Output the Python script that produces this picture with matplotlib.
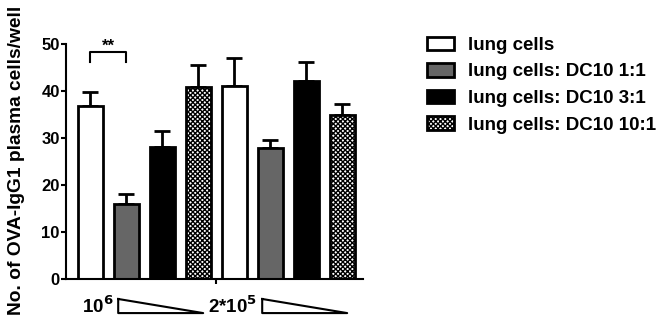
import numpy as np
import matplotlib
matplotlib.use("Agg")
import matplotlib.pyplot as plt
import matplotlib.transforms as mtransforms

plt.rcParams['font.family'] = ['Liberation Sans', 'DejaVu Sans']
plt.rcParams['font.weight'] = 'bold'
plt.rcParams['axes.labelweight'] = 'bold'
plt.rcParams['hatch.linewidth'] = 1.0

# data
groups = ['10$^6$', '2*10$^5$']
series = ['lung cells', 'lung cells: DC10 1:1', 'lung cells: DC10 3:1', 'lung cells: DC10 10:1']
means = [[36.8, 16.0, 28.1, 40.9],
         [41.1, 27.8, 42.1, 35.0]]
errs = [[2.9, 2.0, 3.3, 4.6],
        [5.9, 1.8, 4.0, 2.2]]

faces = ['white', '#666666', 'black', 'white']
hatches = [None, None, None, 'xxxxxxx']

fig = plt.figure(figsize=(6.63, 3.24), dpi=100)
ax = fig.add_axes([66/663, 45/324, 297/663, 235/324])

width = 0.68
handles = []
for gi in range(len(groups)):
    for si in range(len(series)):
        x = gi * len(series) + si
        b = ax.bar(x, means[gi][si], width, color=faces[si], edgecolor='black',
                   linewidth=2, hatch=hatches[si], zorder=2,
                   label=series[si] if gi == 0 else None)
        ax.errorbar(x, means[gi][si], yerr=[[0], [errs[gi][si]]], fmt='none',
                    ecolor='black', elinewidth=2, capsize=6, capthick=2, zorder=1)
        if gi == 0:
            handles.append(b)

ax.set_xlim(-0.68, 7.57)
ax.set_ylim(0, 50)
ax.set_yticks([0, 10, 20, 30, 40, 50])
ax.set_xticks([3.5])
ax.set_xticklabels([''])
ax.tick_params(axis='both', width=1.5, length=3.5, labelsize=12, pad=1)
for s in ['top', 'right']:
    ax.spines[s].set_visible(False)
for s in ['left', 'bottom']:
    ax.spines[s].set_linewidth(1.5)
ax.set_ylabel('No. of OVA-IgG1 plasma cells/well', fontsize=13.8)
ax.yaxis.set_label_coords(-0.138, 0.505)

# significance bracket
ax.plot([0, 0, 1, 1], [46.2, 48.3, 48.3, 46.2], color='black', lw=1.5, clip_on=False)
ax.text(0.5, 47.9, '**', ha='center', va='bottom', fontsize=12)

# group labels with triangles
trans = mtransforms.blended_transform_factory(ax.transData, ax.transAxes)
label_x = [0.2, 3.95]
for gi, lab in enumerate(groups):
    x0 = gi * len(series)
    ax.text(label_x[gi], -0.115, lab, transform=trans, ha='center', va='center',
            fontsize=13.5)
    ax.plot([x0 + 0.77, x0 + 0.77, x0 + 3.13, x0 + 0.77],
            [-0.085, -0.145, -0.145, -0.085], transform=trans,
            color='black', lw=1.5, clip_on=False)

leg = fig.legend(handles=handles, loc='upper left', bbox_to_anchor=(410/663, 1 - 20/324),
                 frameon=False, fontsize=13.5, handlelength=1.45, handleheight=0.7,
                 labelspacing=0.5, handletextpad=0.75)

fig.savefig('out.png', dpi=100)
